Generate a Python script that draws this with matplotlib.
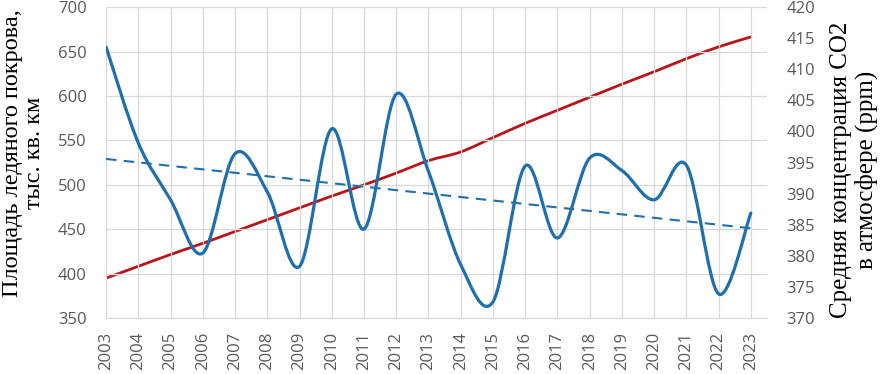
import numpy as np
import matplotlib
matplotlib.use("Agg")
import matplotlib.pyplot as plt
from matplotlib.path import Path
from matplotlib.patches import PathPatch

years = list(range(2003, 2024))
ice_area = [655, 547, 483, 423, 535, 492, 408, 563, 450, 602,
            515, 410, 368, 521, 440, 530, 516, 483, 522, 377, 468]
co2_ppm = [376.4, 378.3, 380.2, 382.0, 383.9, 385.8, 387.7, 389.6, 391.4, 393.3,
           395.3, 396.7, 399.0, 401.3, 403.4, 405.5, 407.6, 409.6, 411.7, 413.6, 415.2]
trend_years = [2003, 2023]
trend_area = [529, 451]

left_ticks = [350, 400, 450, 500, 550, 600, 650, 700]
right_ticks = [370, 375, 380, 385, 390, 395, 400, 405, 410, 415, 420]

BLUE = "#1F6EAE"
RED = "#B8141A"
GRAY = "#595959"


def smooth_path(x, y):
    # excel style smoothed line: cubic bezier, catmull-rom control points
    p = np.column_stack([x, y]).astype(float)
    ext = np.vstack([p[0], p, p[-1]])
    verts = [p[0]]
    codes = [Path.MOVETO]
    for i in range(len(p) - 1):
        p0, p1, p2, p3 = ext[i], ext[i + 1], ext[i + 2], ext[i + 3]
        verts += [p1 + (p2 - p0) / 6, p2 - (p3 - p1) / 6, p2]
        codes += [Path.CURVE4] * 3
    return Path(verts, codes)


fig = plt.figure(figsize=(8.84, 3.74), dpi=100)
ax = fig.add_axes([0.12, 0.150, 0.7476, 0.831])
ax2 = ax.twinx()

ax.set_xlim(2003, 2023.5)
ax.set_ylim(350, 700)
ax2.set_ylim(370, 420)

ax.set_xticks(years)
ax.set_xticklabels([str(y) for y in years], rotation=90)
ax.set_yticks(left_ticks)
ax2.set_yticks(right_ticks)

ax.grid(True, color="#D9D9D9", linewidth=0.9)
ax.set_axisbelow(True)
for a in (ax, ax2):
    for s in a.spines.values():
        s.set_visible(False)
    a.tick_params(length=0, labelsize=12, labelcolor=GRAY)
ax.spines["bottom"].set_visible(True)
ax.spines["bottom"].set_color("#D9D9D9")
for lab in ax.get_xticklabels() + ax.get_yticklabels() + ax2.get_yticklabels():
    lab.set_fontfamily("Open Sans")
ax.tick_params(axis="x", pad=10)
ax.tick_params(axis="y", pad=14)
ax2.tick_params(axis="y", pad=14)

ax2.add_patch(PathPatch(smooth_path(years, co2_ppm), facecolor="none",
                        edgecolor=RED, linewidth=2.0, capstyle="round"))
ax.add_patch(PathPatch(smooth_path(years, ice_area), facecolor="none",
                       edgecolor=BLUE, linewidth=2.3, capstyle="round"))
ax.plot(trend_years, trend_area, color=BLUE, linewidth=1.5, linestyle=(0, (5, 3.5)))
ax.set_zorder(ax2.get_zorder() + 1)
ax.patch.set_visible(False)

fig.text(0.002, 0.59, "Площадь ледяного покрова,\nтыс. кв. км", rotation=90,
         ha="left", va="center", fontsize=17.5, family="Liberation Serif",
         linespacing=1.08, multialignment="center")
fig.text(0.939, 0.545, "Средняя концентрация СО2\nв атмосфере (ppm)", rotation=90,
         ha="left", va="center", fontsize=18, family="Liberation Serif",
         linespacing=1.12, multialignment="center")

fig.savefig("out.png", dpi=100)
